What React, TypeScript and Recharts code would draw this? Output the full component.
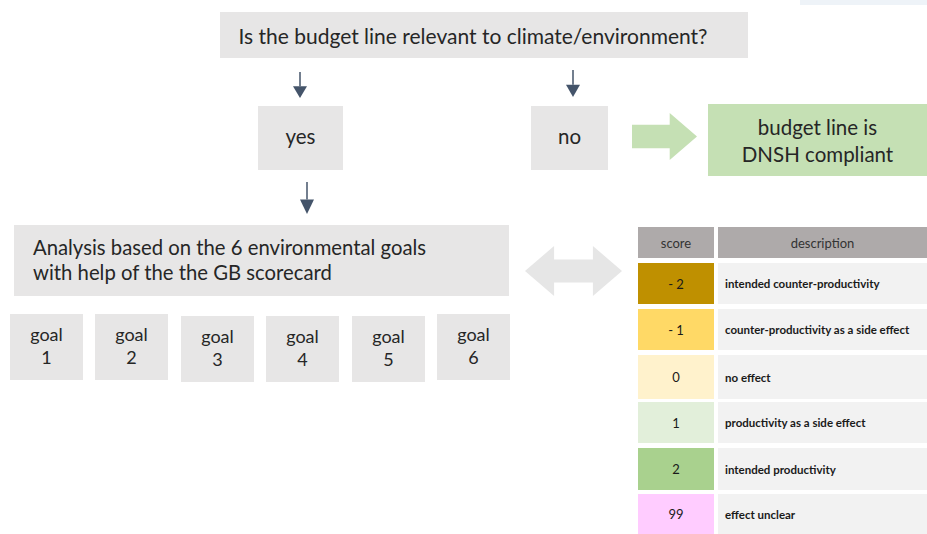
import React from 'react';
import { ComposedChart, XAxis, YAxis, ReferenceArea, Scatter } from 'recharts';

const W = 927;
const H = 534;

// ---------- content ----------
const question = 'Is the budget line relevant to climate/environment?';
const answers = ['yes', 'no'];
const resultLines = ['budget line is', 'DNSH compliant'];
const analysisLines = ['Analysis based on the 6 environmental goals', 'with help of the the GB scorecard'];
const goalWord = 'goal';
const goalLabels = ['1', '2', '3', '4', '5', '6'];
const tableHeader = ['score', 'description'];
const scores = ['- 2', '- 1', '0', '1', '2', '99'];
const descriptions = [
  'intended counter-productivity',
  'counter-productivity as a side effect',
  'no effect',
  'productivity as a side effect',
  'intended productivity',
  'effect unclear',
];

// ---------- layout / style ----------
const FONT = 'Lato, "Open Sans", sans-serif';
const BOX = '#e7e6e6';
const TXT = '#262626';
const scoreFills = ['#bf9000', '#ffd966', '#fff2cc', '#e2efda', '#a9d18e', '#ffccff'];
const goalX = [10, 95, 181, 266, 352, 437];
const goalY = [314, 314, 316, 316, 316, 314];
const rowY = [[263, 304], [309, 350], [355, 399], [402, 443], [448, 490], [494, 534]];
const corners = [{ x: 0, y: 0 }, { x: W, y: H }];

type VB = { x: number; y: number; width: number; height: number };

const textLabel = (lines: string[], o: { size: number; align?: 'center' | 'left'; padX?: number; lh?: number; weight?: number; color?: string; dy?: number; dx?: number }) =>
  (props: any) => {
    const vb: VB = props.viewBox;
    const lh = o.lh ?? o.size * 1.3;
    const cy = vb.y + vb.height / 2 + (o.dy ?? 0);
    const startY = cy - ((lines.length - 1) * lh) / 2;
    const left = o.align === 'left';
    const x = (left ? vb.x + (o.padX ?? 0) : vb.x + vb.width / 2) + (o.dx ?? 0);
    return (
      <text
        x={x}
        fontFamily={FONT}
        fontSize={o.size}
        fontWeight={o.weight ?? 400}
        fill={o.color ?? TXT}
        textAnchor={left ? 'start' : 'middle'}
      >
        {lines.map((l, i) => (
          <tspan key={i} x={x} y={startY + i * lh} dominantBaseline="central">
            {l}
          </tspan>
        ))}
      </text>
    );
  };

const downArrow = (props: any) => {
  const { x, y, width, height } = props;
  const cx = x + width / 2;
  const headTop = y + height * 0.55;
  return (
    <g>
      <line x1={cx} y1={y} x2={cx} y2={headTop} stroke="#44546a" strokeWidth={1.5} />
      <polygon points={`${x},${headTop} ${x + width},${headTop} ${cx},${y + height}`} fill="#44546a" />
    </g>
  );
};

const blockRight = (fill: string) => (props: any) => {
  const { x, y, width, height } = props;
  const sh = height * 0.25;
  const hx = x + width * 0.58;
  return (
    <polygon
      points={`${x},${y + sh} ${hx},${y + sh} ${hx},${y} ${x + width},${y + height / 2} ${hx},${y + height} ${hx},${y + height - sh} ${x},${y + height - sh}`}
      fill={fill}
    />
  );
};

const doubleArrow = (props: any) => {
  const { x, y, width, height } = props;
  const sh = height * 0.27;
  const hw = width * 0.3;
  return (
    <polygon
      points={`${x},${y + height / 2} ${x + hw},${y} ${x + hw},${y + sh} ${x + width - hw},${y + sh} ${x + width - hw},${y} ${x + width},${y + height / 2} ${x + width - hw},${y + height} ${x + width - hw},${y + height - sh} ${x + hw},${y + height - sh} ${x + hw},${y + height}`}
      fill="#e6e6e6"
    />
  );
};

const area = (key: string, x1: number, x2: number, y1: number, y2: number, fill: string, label?: any, shape?: any) => (
  <ReferenceArea
    key={key}
    x1={x1}
    x2={x2}
    y1={y1}
    y2={y2}
    fill={fill}
    fillOpacity={1}
    stroke="none"
    ifOverflow="visible"
    label={label ? { content: label } : undefined}
    shape={shape}
  />
);

export default function App() {
  return (
    <div style={{ position: 'absolute', left: 0, top: 0, width: W, height: H, background: '#fff' }}>
      <ComposedChart width={W} height={H} data={corners} margin={{ top: 0, right: 0, bottom: 0, left: 0 }}>
        <XAxis type="number" dataKey="x" domain={[0, W]} hide allowDataOverflow />
        <YAxis type="number" dataKey="y" domain={[0, H]} reversed hide allowDataOverflow />
        <Scatter data={corners} dataKey="y" isAnimationActive={false} shape={() => <g />} />

        {area('topband', 800, W, 0, 5, '#eef3f8')}
        {area('question', 220, 748, 12, 58, BOX, textLabel([question], { size: 21, dx: -11 }))}

        {area('arrYes', 293, 307, 72, 98, '#44546a', undefined, downArrow)}
        {area('arrNo', 566, 580, 70, 97, '#44546a', undefined, downArrow)}

        {area('yes', 258, 343, 106, 170, BOX, textLabel([answers[0]], { size: 20.5, dy: -2 }))}
        {area('no', 531, 608, 106, 170, BOX, textLabel([answers[1]], { size: 20.5, dy: -2 }))}

        {area('greenArrow', 632, 697, 113, 160, '#c5e0b4', undefined, blockRight('#c5e0b4'))}
        {area('result', 708, W, 104, 176, '#c5e0b4', textLabel(resultLines, { size: 20.5, lh: 27 }))}

        {area('arrAnalysis', 300, 314, 182, 214, '#44546a', undefined, downArrow)}
        {area('analysis', 14, 509, 225, 296, BOX, textLabel(analysisLines, { size: 20.3, align: 'left', padX: 19, lh: 25, dy: -1 }))}

        {goalLabels.map((g, i) =>
          area('goal' + i, goalX[i], goalX[i] + 73, goalY[i], goalY[i] + 66, BOX, textLabel([goalWord, g], { size: 18, lh: 23, dy: -2 }))
        )}

        {area('dbl', 525, 622, 246, 296, '#e6e6e6', undefined, doubleArrow)}

        {area('hScore', 638, 714, 227, 258, '#aeaaaa', textLabel([tableHeader[0]], { size: 13, color: '#333' }))}
        {area('hDesc', 718, W, 227, 258, '#aeaaaa', textLabel([tableHeader[1]], { size: 13, color: '#333' }))}

        {scores.map((s, i) =>
          area('s' + i, 638, 714, rowY[i][0], rowY[i][1], scoreFills[i], textLabel([s], { size: 13, color: '#1a1a1a' }))
        )}
        {descriptions.map((d, i) =>
          area('d' + i, 718, W, rowY[i][0], rowY[i][1], '#f2f2f2', textLabel([d], { size: 11.5, align: 'left', padX: 7, weight: 700, color: '#1a1a1a' }))
        )}
      </ComposedChart>
    </div>
  );
}
